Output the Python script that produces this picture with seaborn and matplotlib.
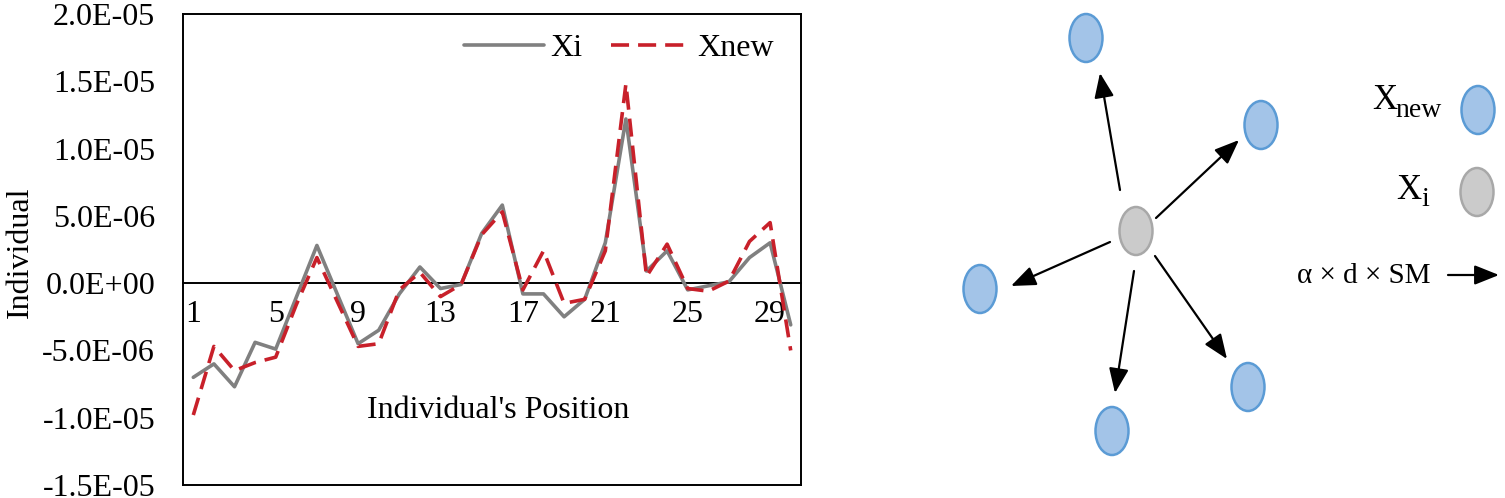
import numpy as np
import pandas as pd
import matplotlib
matplotlib.use('Agg')
import matplotlib.pyplot as plt
from matplotlib.patches import Ellipse
import seaborn as sns

sns.set_style("white")
plt.rcParams['font.family'] = ['Liberation Serif', 'DejaVu Serif']
plt.rcParams['text.color'] = 'black'
plt.rcParams['axes.labelcolor'] = 'black'
plt.rcParams['xtick.color'] = 'black'
plt.rcParams['ytick.color'] = 'black'

# values (units of 1e-6)
positions = list(range(1, 31))
xi = [-7.0, -6.0, -7.7, -4.4, -4.9, -1.05, 2.8, -0.85, -4.5, -3.5,
      -0.8, 1.2, -0.4, -0.1, 3.7, 5.8, -0.8, -0.8, -2.5, -1.2,
      3.0, 12.2, 0.9, 2.4, -0.5, -0.2, 0.1, 1.9, 3.0, -3.1]
xnew = [-9.8, -4.7, -6.5, -5.9, -5.5, -1.6, 1.9, -1.4, -4.7, -4.5,
        -0.5, 0.8, -1.0, -0.1, 3.6, 5.3, -0.5, 2.4, -1.5, -1.2,
        2.4, 14.8, 0.5, 2.9, -0.4, -0.6, 0.15, 3.1, 4.5, -5.0]
series_order = ['Xi', 'Xnew']
xtick_pos = [1, 5, 9, 13, 17, 21, 25, 29]
ytick_vals = [-1.5e-5, -1.0e-5, -5e-6, 0.0, 5e-6, 1.0e-5, 1.5e-5, 2.0e-5]

# diagram on the right (pixel-like coordinates of that panel)
center_node = (1136, 231)
new_nodes = [(1086, 38), (1261, 125), (980, 289), (1112, 431), (1248, 387)]
arrow_tails = [(1120, 190), (1156, 218), (1110, 242), (1134, 271), (1155, 256)]
arrow_tips = [(1100, 73), (1239, 140), (1011, 286), (1115, 393), (1227, 359)]

df = pd.DataFrame({
    'pos': positions * 2,
    'value': np.array(xi + xnew) * 1e-6,
    'series': ['Xi'] * len(xi) + ['Xnew'] * len(xnew),
})

fig = plt.figure(figsize=(15.05, 4.98), dpi=100)
ax = fig.add_axes([183 / 1505, 13 / 498, 618 / 1505, 471 / 498])

sns.lineplot(data=df, x='pos', y='value', hue='series', style='series',
             hue_order=series_order, style_order=series_order,
             palette={'Xi': '#808080', 'Xnew': '#C8202A'},
             dashes={'Xi': '', 'Xnew': (5, 2.5)},
             linewidth=2.6, ax=ax)

ymin, ymax = -1.5e-5, 2.0e-5
ax.set_xlim(0.5, 30.5)
ax.set_ylim(ymin, ymax)
ax.set_yticks(ytick_vals)
ax.set_yticklabels(['{:.1E}'.format(v) for v in ytick_vals])
ax.set_xticks([])
ax.tick_params(axis='y', length=0, pad=20, labelsize=23)
for sp in ax.spines.values():
    sp.set_visible(True)
    sp.set_color('black')
    sp.set_linewidth(1.4)

# category axis crossing at zero, like the original
secax = ax.secondary_xaxis((0 - ymin) / (ymax - ymin))
secax.set_xticks(xtick_pos)
secax.set_xticklabels([str(p) for p in xtick_pos])
secax.tick_params(axis='x', length=0, pad=12, labelsize=23)
secax.spines['bottom'].set_linewidth(1.4)
secax.spines['bottom'].set_color('black')

ax.set_xlabel("Individual's Position", fontsize=23)
ax.xaxis.set_label_coords(0.5105, 0.188)
ax.set_ylabel('Individual', fontsize=23)
ax.yaxis.set_label_coords(-0.24, 0.495)

handles, labels = ax.get_legend_handles_labels()
ax.legend(handles, labels, ncol=2, frameon=False, loc='upper right',
          bbox_to_anchor=(1.003, 1.02), fontsize=23, handlelength=2.5,
          handletextpad=0.2, columnspacing=0.9)

# right panel
ax2 = fig.add_axes([940 / 1505, 0, 565 / 1505, 1])
ax2.set_xlim(940, 1505)
ax2.set_ylim(498, 0)
ax2.axis('off')

blue_fc, blue_ec = '#A3C4E8', '#5B9BD5'
gray_fc, gray_ec = '#CBCBCB', '#A8A8A8'
node_w, node_h = 33, 48

for (x, y) in new_nodes:
    ax2.add_patch(Ellipse((x, y), node_w, node_h, facecolor=blue_fc,
                          edgecolor=blue_ec, lw=1.8))
ax2.add_patch(Ellipse(center_node, node_w, node_h, facecolor=gray_fc,
                      edgecolor=gray_ec, lw=1.8))

arrow_kw = dict(arrowstyle='-|>,head_length=0.75,head_width=0.3',
                mutation_scale=20, color='black', lw=1.6,
                shrinkA=0, shrinkB=0)
for tail, tip in zip(arrow_tails, arrow_tips):
    ax2.annotate('', xy=tip, xytext=tail, arrowprops=arrow_kw)

# legend of the diagram
ax2.add_patch(Ellipse((1478, 110), node_w, node_h, facecolor=blue_fc,
                      edgecolor=blue_ec, lw=1.8))
ax2.add_patch(Ellipse((1477, 192), node_w, node_h, facecolor=gray_fc,
                      edgecolor=gray_ec, lw=1.8))
ax2.text(1397, 109, 'X', ha='right', va='baseline', fontsize=25)
ax2.text(1395, 117, 'new', ha='left', va='baseline', fontsize=20)
ax2.text(1421, 199, 'X', ha='right', va='baseline', fontsize=25)
ax2.text(1421, 206, 'i', ha='left', va='baseline', fontsize=20)
ax2.text(1297, 276, 'α × d × SM', ha='left', va='center', fontsize=21)
ax2.annotate('', xy=(1499, 275), xytext=(1448, 275), arrowprops=arrow_kw)

fig.savefig('out.png', dpi=100)
